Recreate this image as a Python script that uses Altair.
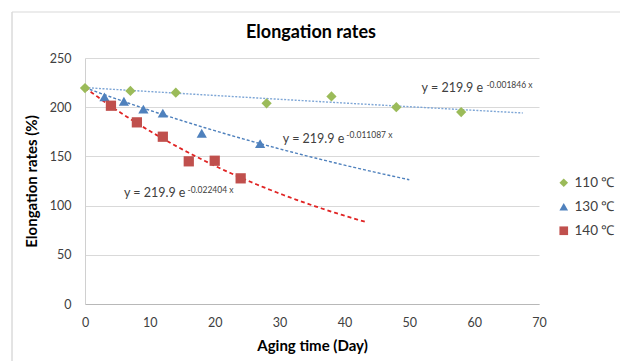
import altair as alt
import pandas as pd

FONT = "Lato"

series = ["110 ℃", "130 ℃", "140 ℃"]
colors = ["#9BBB59", "#4F81BD", "#C0504D"]
shapes = ["diamond", "triangle-up", "square"]

x110 = [0, 7, 14, 28, 38, 48, 58]
y110 = [219.5, 216.5, 214.7, 204, 211, 200, 195]
x130 = [3, 6, 9, 12, 18, 27]
y130 = [210.5, 206, 198, 194, 173.5, 163]
x140 = [4, 8, 12, 16, 20, 24]
y140 = [201.5, 184.6, 170, 145, 145.6, 127.7]

# trendline equations shown on the chart: y = a * exp(-k x)
trend_a = [219.9, 219.9, 219.9]
trend_k = [0.001846, 0.011087, 0.022404]
trend_end = [67.5, 50, 43.5]
trend_colors = ["#7EA6D6", "#4F81BD", "#E02424"]
trend_dash = [[2, 1.5], [3, 2], [4, 3]]
trend_width = [1.4, 1.4, 1.8]

title_text = "Elongation rates"
eq_main = ["y = 219.9 e", "y = 219.9 e", "y = 219.9 e"]
eq_sup = ["-0.001846  x", "-0.011087  x", "-0.022404  x"]
eq_main_x = [51.9, 30.5, 6.0]
eq_main_y = [219.5, 167.7, 113.1]
eq_sup_x = [61.9, 40.3, 15.8]
eq_sup_y = [222.8, 171.9, 116.3]

rows = []
for s, xs, ys in zip(series, [x110, x130, x140], [y110, y130, y140]):
    for xv, yv in zip(xs, ys):
        rows.append({"series": s, "day": xv, "rate": yv})
pts = pd.DataFrame(rows)

xscale = alt.Scale(domain=[0, 70], nice=False)
yscale = alt.Scale(domain=[0, 250], nice=False)

xenc = alt.X("day:Q", scale=xscale,
             axis=alt.Axis(values=list(range(0, 71, 10)), title="Aging time (Day)",
                           grid=False, domainColor="#b8b8b8", labelFlush=False))
yenc = alt.Y("rate:Q", scale=yscale,
             axis=alt.Axis(values=list(range(0, 251, 50)), title="Elongation rates  (%)",
                           grid=True, domainColor="#d0d0d0", labelFlush=False))

layers = []

# outer chart frame and chart title
frame = pd.DataFrame({"a": [0]})
layers.append(alt.Chart(frame).mark_rule(color="#c8c8c8", strokeWidth=1).encode(
    x=alt.value(-73), y=alt.value(-46), y2=alt.value(320)))
layers.append(alt.Chart(frame).mark_rule(color="#d9d9d9", strokeWidth=1).encode(
    x=alt.value(-73), x2=alt.value(560), y=alt.value(-46)))
layers.append(alt.Chart(frame).mark_text(fontSize=18, font=FONT, fontWeight="bold",
                                         color="#000000", align="center",
                                         baseline="middle").encode(
    x=alt.value(226), y=alt.value(-25), text=alt.value(title_text)))

for a, k, end, c, d, w in zip(trend_a, trend_k, trend_end, trend_colors, trend_dash, trend_width):
    t = (alt.Chart(alt.sequence(0, 70.01, 0.5, as_="day"))
         .transform_filter(alt.datum.day <= end)
         .transform_calculate(rate=f"{a} * exp(-{k} * datum.day)")
         .mark_line(color=c, strokeDash=d, strokeWidth=w)
         .encode(x=xenc, y=yenc))
    layers.append(t)

layers.append(alt.Chart(pts).mark_point(filled=True, opacity=1, size=105).encode(
    x=xenc, y=yenc,
    color=alt.Color("series:N", scale=alt.Scale(domain=series, range=colors),
                    legend=alt.Legend(title=None, orient="none", legendX=472, legendY=118,
                                      labelFontSize=13.5, symbolSize=75, rowPadding=9,
                                      labelFont=FONT, labelColor="#404040",
                                      symbolStrokeWidth=0)),
    shape=alt.Shape("series:N", scale=alt.Scale(domain=series, range=shapes), legend=None),
))

eq = pd.DataFrame({"main": eq_main, "sup": eq_sup, "mx": eq_main_x, "my": eq_main_y,
                   "sx": eq_sup_x, "sy": eq_sup_y})
layers.append(alt.Chart(eq).mark_text(align="left", baseline="middle", fontSize=12.5,
                                      font=FONT, color="#404040").encode(
    x=alt.X("mx:Q", scale=xscale), y=alt.Y("my:Q", scale=yscale), text="main:N"))
layers.append(alt.Chart(eq).mark_text(align="left", baseline="middle", fontSize=8.5,
                                      font=FONT, color="#404040").encode(
    x=alt.X("sx:Q", scale=xscale), y=alt.Y("sy:Q", scale=yscale), text="sup:N"))

chart = alt.layer(*layers).properties(
    width=454, height=246,
    autosize=alt.AutoSizeParams(type="none"),
    padding={"left": 85, "top": 58, "right": 81, "bottom": 57},
).configure_view(stroke=None).configure_axis(
    labelFont=FONT, labelFontSize=12.5, labelColor="#404040", ticks=False,
    gridColor="#d9d9d9", titleFont=FONT, titleFontSize=15, titleFontWeight="bold",
    titleColor="#000000", labelPadding=12,
).configure_axisY(titlePadding=10, labelPadding=14).configure_axisX(titlePadding=10)

chart.save("out.html", embed_options={"renderer": "svg", "actions": False})
